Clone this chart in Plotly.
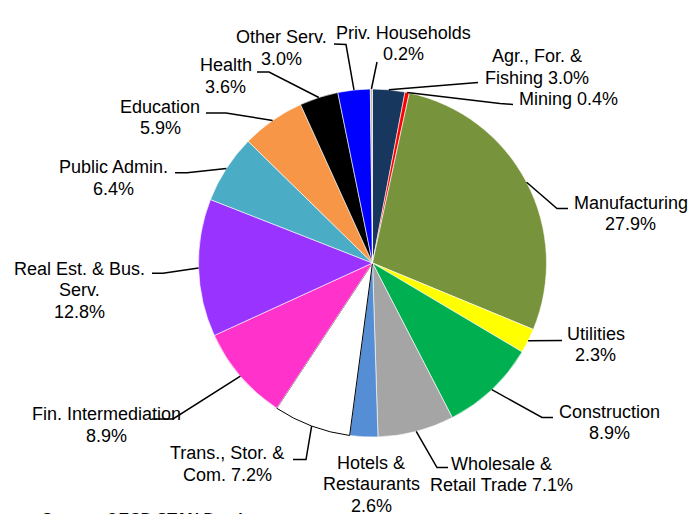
import plotly.graph_objects as go
import math

# ---- data ----
labels = ["Agr., For. & Fishing", "Mining", "Manufacturing", "Utilities", "Construction",
          "Wholesale & Retail Trade", "Hotels & Restaurants", "Trans., Stor. & Com.",
          "Fin. Intermediation", "Real Est. & Bus. Serv.", "Public Admin.", "Education",
          "Health", "Other Serv.", "Priv. Households"]
values = [3.0, 0.4, 27.9, 2.3, 8.9, 7.1, 2.6, 7.2, 8.9, 12.8, 6.4, 5.9, 3.6, 3.0, 0.2]
# how each label is wrapped and joined to its percentage
label_wrapped = ["Agr., For. &\nFishing", "Mining", "Manufacturing", "Utilities", "Construction",
                 "Wholesale &\nRetail Trade", "Hotels &\nRestaurants", "Trans., Stor. &\nCom.",
                 "Fin. Intermediation", "Real Est. & Bus.\nServ.", "Public Admin.", "Education",
                 "Health", "Other Serv.", "Priv. Households"]
pct_sep = [" ", " ", "\n", "\n", "\n", " ", "\n", " ", "\n", "\n", "\n", "\n", "\n", "\n", "\n"]
colors = ["#17375E", "#FF0000", "#77933C", "#FFFF00", "#00B050", "#A5A5A5", "#558ED5",
          "#FFFFFF", "#FF33CC", "#9933FF", "#4BACC6", "#F79646", "#000000", "#0000FF", "#C4BD97"]
source_text = "Source: OECD STAN Database"

# ---- layout (pixels) ----
W, H = 692, 514
CX, CY, R = 372.5, 263.0, 174.0
FS = 18
LINE_H = 21.5
# label centre x, first baseline y, leader elbow, leader end (None = no leader)
label_pos = [
    (537, 62.7, (478, 82.5), (478, 82.5)),
    (568, 105.5, (500, 103.5), (513, 104.5)),
    (630.5, 209, (557, 208.5), (568, 208.5)),
    (595.5, 340, (562, 340.5), (562, 340.5)),
    (609, 418, (542, 417.5), (553, 417.5)),
    (501.5, 470, (437, 467.5), (448, 467.5)),
    (371, 469, None, None),
    (227, 459.5, (306, 459.5), (293, 459.5)),
    (106.5, 420.7, (173, 419), (152, 419)),
    (79, 275, (163, 273.3), (152, 273.3)),
    (113.5, 173.3, (187, 172.7), (175, 172.7)),
    (160, 113, (226, 113), (206, 113)),
    (226, 71.7, (269, 72), (257, 72)),
    (281.5, 43.3, (346, 44.5), (334, 44)),
    (403, 39, (377, 62), (377, 62)),
]

def px(x):
    return x / W

def py(y):
    return 1 - y / H

fig = go.Figure(go.Pie(
    labels=labels, values=values, sort=False, direction="clockwise", rotation=0,
    marker=dict(colors=colors,
                line=dict(color=["#000000" if c == "#FFFFFF" else "#FFFFFF" for c in colors],
                          width=[1 if c == "#FFFFFF" else 0.6 for c in colors])),
    textinfo="none", hoverinfo="label+percent", showlegend=False,
    domain=dict(x=[px(CX - R), px(CX + R)], y=[py(CY + R), py(CY - R)]),
))

total = sum(values)
annotations = []
shapes = []
cum = 0.0
for i, v in enumerate(values):
    mid = (cum + v / 2) / total
    cum += v
    ang = 2 * math.pi * mid
    ax_, ay_ = CX + R * math.sin(ang), CY - R * math.cos(ang)
    text = label_wrapped[i] + pct_sep[i] + f"{v:.1f}%"
    cx, by, elbow, end = label_pos[i]
    for k, line in enumerate(text.split("\n")):
        annotations.append(dict(
            x=px(cx), y=py(by + k * LINE_H - 0.3465 * FS), xref="paper", yref="paper",
            text=line, showarrow=False, xanchor="center", yanchor="middle",
            font=dict(family="Liberation Sans, Arial, sans-serif", size=FS, color="#000000"),
        ))
    if elbow is not None:
        path = f"M {px(ax_)} {py(ay_)} L {px(elbow[0])} {py(elbow[1])} L {px(end[0])} {py(end[1])}"
        shapes.append(dict(type="path", xref="paper", yref="paper", path=path,
                           line=dict(color="#000000", width=1.5)))

annotations.append(dict(
    x=px(40), y=py(509), xref="paper", yref="paper", text=f"<b>{source_text}</b>",
    showarrow=False, xanchor="left", yanchor="top",
    font=dict(family="Liberation Sans, Arial, sans-serif", size=16, color="#000000"),
))

fig.update_layout(
    width=W, height=H, margin=dict(l=0, r=0, t=0, b=0),
    paper_bgcolor="#FFFFFF", plot_bgcolor="#FFFFFF",
    annotations=annotations, shapes=shapes,
)

fig.write_html("out.html", config={"displayModeBar": False},
               post_script="document.body.style.margin='0';")
